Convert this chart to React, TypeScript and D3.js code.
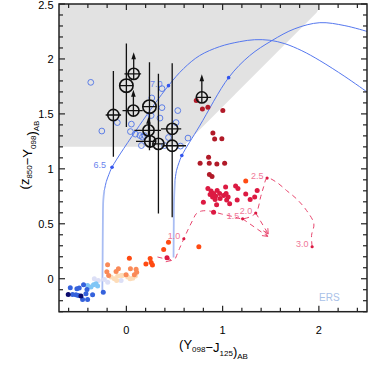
import { useRef, useEffect } from "react";
import * as d3 from "d3";

type Pt = [number, number];

// colour–colour data, (Y098-J125, z850-Y098)
const navyPts: Pt[] = [[-0.604, -0.143], [-0.472, -0.156]];
const bluePts: Pt[] = [
  [-0.583, -0.082], [-0.559, -0.143], [-0.514, -0.091], [-0.49, -0.085], [-0.524, -0.145],
  [-0.445, -0.055], [-0.409, -0.097], [-0.42, -0.136], [-0.455, -0.188], [-0.403, -0.188],
  [-0.351, -0.145], [-0.24, -0.122], [-0.5, -0.152],
];
const lightBluePts: Pt[] = [[-0.368, -0.076], [-0.341, -0.055], [-0.316, -0.045], [-0.403, -0.061], [-0.299, -0.065]];
const lavenderPts: Pt[] = [[-0.333, 0.0], [-0.292, -0.015], [-0.229, -0.006], [-0.194, -0.031], [-0.055, -0.015]];
const peachPts: Pt[] = [
  [-0.159, 0.015], [-0.125, 0.0], [-0.09, 0.024], [-0.055, 0.03], [-0.101, -0.015],
  [0.014, 0.015], [0.039, 0.0], [0.066, 0.005], [0.094, 0.024], [-0.038, 0.03],
];
const orangePts: Pt[] = [
  [-0.195, 0.127], [-0.203, 0.064], [-0.184, 0.03], [-0.107, 0.066], [-0.083, 0.091],
  [-0.003, 0.036], [0.042, 0.091], [0.101, 0.087], [0.083, 0.036], [0.107, 0.06],
];
const orangeRedPts: Pt[] = [
  [0.4375, 0.333], [0.3875, 0.266], [0.031, 0.187], [0.247, 0.185], [0.257, 0.148],
  [0.271, 0.125], [0.203, 0.135], [0.753, 0.292], [1.24, 0.889],
];
const crimsonPts: Pt[] = [
  [0.847, 0.821], [0.88, 0.798], [0.906, 0.775], [0.927, 0.753], [0.896, 0.744],
  [0.943, 0.803], [0.969, 0.775], [0.922, 0.721], [0.974, 0.73], [0.87, 0.766],
  [1.031, 0.835], [1.135, 0.844], [1.159, 0.821], [1.01, 0.757], [1.036, 0.775],
  [1.057, 0.744], [1.042, 0.716], [1.073, 0.682], [1.151, 0.716], [1.24, 0.771],
  [1.286, 0.721], [1.359, 0.803], [1.333, 0.744], [0.8, 0.696], [0.9375, 0.673],
  [0.906, 0.605], [0.422, 0.191],
];
const darkRedPts: Pt[] = [
  [0.726, 1.621], [0.79, 1.544], [0.847, 1.56], [1.002, 1.53], [0.899, 1.327],
  [0.917, 1.271], [0.992, 1.274], [0.854, 1.105], [0.766, 1.051], [0.861, 1.051],
  [0.94, 1.045], [1.021, 1.05], [0.8625, 0.948], [0.89, 0.93],
];
const openBluePts: Pt[] = [
  [-0.37, 1.787], [-0.255, 1.344], [-0.094, 1.421], [0.052, 1.407], [0.042, 1.339],
  [0.094, 1.316], [0.141, 1.303], [0.167, 1.289], [0.1875, 1.303], [0.156, 1.212],
  [0.264, 1.645], [0.257, 1.485], [0.37, 1.73], [0.37, 1.557], [0.349, 1.462],
  [0.534, 1.53], [0.516, 1.421], [0.4375, 1.285], [0.5625, 1.207], [0.64, 1.28],
  [0.396, 1.212],
];

// candidates with error bars
const candidates = [
  { x: -0.135, y: 1.49, xLo: -0.215, xHi: -0.055, yLo: 1.11, yHi: 1.89, big: false, limit: 0 },
  { x: 0.0, y: 1.757, xLo: 0, xHi: 0, yLo: 1.38, yHi: 2.14, big: true, limit: 0 },
  { x: 0.076, y: 1.864, xLo: -0.02, xHi: 0.153, yLo: 1.864, yHi: 1.864, big: false, limit: 2.06 },
  { x: 0.073, y: 1.53, xLo: -0.04, xHi: 0.17, yLo: 1.53, yHi: 1.53, big: false, limit: 1.72 },
  { x: 0.24, y: 1.566, xLo: 0.24, xHi: 0.24, yLo: 1.17, yHi: 1.97, big: true, limit: 0 },
  { x: 0.23, y: 1.35, xLo: 0.083, xHi: 0.36, yLo: 1.35, yHi: 1.35, big: false, limit: 1.475 },
  { x: 0.247, y: 1.25, xLo: 0.1, xHi: 0.28, yLo: 1.19, yHi: 1.3, big: false, limit: 0 },
  { x: 0.333, y: 1.227, xLo: 0.333, xHi: 0.333, yLo: 0.594, yHi: 1.866, big: false, limit: 0 },
  { x: 0.476, y: 1.364, xLo: 0.36, xHi: 0.57, yLo: 1.364, yHi: 1.364, big: false, limit: 0 },
  { x: 0.476, y: 1.21, xLo: 0.375, xHi: 0.62, yLo: 0.56, yHi: 1.96, big: false, limit: 0 },
  { x: 0.784, y: 1.65, xLo: 0.726, xHi: 0.88, yLo: 1.65, yHi: 1.65, big: false, limit: 1.86 },
];

// high-z model tracks
const trackASteep: Pt[] = [[-0.25, -0.12], [-0.247, 0.166], [-0.244, 0.53], [-0.24, 0.712], [-0.229, 0.803]];
const trackA: Pt[] = [
  [-0.229, 0.803], [-0.208, 0.885], [-0.182, 0.948], [-0.149, 1.015], [0.135, 1.394],
  [0.4375, 1.757], [0.594, 1.912], [0.76, 2.03], [0.969, 2.112], [1.177, 2.157],
  [1.333, 2.175], [1.49, 2.17], [1.646, 2.139], [1.823, 2.075], [2.01, 1.985],
  [2.27, 1.84], [2.51, 1.694],
];
const trackBSteep: Pt[] = [[0.49, 0.194], [0.492, 0.439], [0.495, 0.712], [0.505, 0.894]];
const trackB: Pt[] = [
  [0.505, 0.894], [0.521, 0.985], [0.547, 1.057], [0.576, 1.121], [0.76, 1.389],
  [1.0625, 1.83], [1.281, 2.03], [1.51, 2.166], [1.75, 2.275], [2.01, 2.33],
  [2.27, 2.303], [2.51, 2.248],
];
const modelMarks: Pt[] = [[-0.149, 1.015], [0.4375, 1.757], [0.576, 1.121], [1.0625, 1.83]];
const modelLabels = [
  { text: "6.5", at: [-0.149, 1.015] as Pt },
  { text: "7.0", at: [0.4375, 1.757] as Pt },
];

// low-z interloper track
const lowzTrack: Pt[] = [
  [0.51, 0.185], [0.552, 0.275], [0.597, 0.364], [0.646, 0.457], [0.6875, 0.53],
  [0.729, 0.594], [0.781, 0.616], [0.865, 0.616], [0.99, 0.589], [1.125, 0.562],
  [1.208, 0.545], [1.344, 0.598], [1.396, 0.748], [1.427, 0.839], [1.462, 0.916],
  [1.56, 0.878], [1.664, 0.803], [1.768, 0.727], [1.872, 0.621], [1.948, 0.5],
  [1.924, 0.394], [1.93, 0.291],
];
const lowzMarks = [
  { text: "1.0", at: [0.597, 0.364] as Pt },
  { text: "1.5", at: [1.208, 0.545] as Pt },
  { text: "2.0", at: [1.344, 0.598] as Pt },
  { text: "2.5", at: [1.462, 0.916] as Pt },
  { text: "3.0", at: [1.93, 0.291] as Pt },
];
const lowzArrows: [Pt, Pt][] = [
  [[1.208, 0.545], [1.469, 0.385]],
  [[1.344, 0.598], [1.474, 0.407]],
  [[0.323, 0.198], [0.469, 0.166]],
];

const selectionBox: Pt[] = [[-0.7, 2.5], [-0.7, 1.2], [0.585, 1.2], [1.975, 2.42], [1.995, 2.45], [2.0, 2.5]];

const xTickLabels = [0, 1, 2];
const yTickLabels = [0, 0.5, 1, 1.5, 2, 2.5];

const App = () => {
  const ref = useRef<SVGSVGElement>(null);

  useEffect(() => {
    const svg = d3.select(ref.current);
    svg.selectAll("*").remove();
    const font = "'Liberation Sans', Arial, sans-serif";

    const x = d3.scaleLinear().domain([-0.7, 2.5]).range([59, 367]);
    const y = d3.scaleLinear().domain([-0.3, 2.5]).range([311.7, 4]);
    const line = d3.line<Pt>().x(d => x(d[0])).y(d => y(d[1]));
    const smooth = d3.line<Pt>().x(d => x(d[0])).y(d => y(d[1])).curve(d3.curveCatmullRom);

    const defs = svg.append("defs");
    defs.append("clipPath").attr("id", "plot")
      .append("rect").attr("x", 59).attr("y", 4).attr("width", 308).attr("height", 307.7);
    defs.append("marker").attr("id", "chev").attr("viewBox", "0 0 8 8").attr("refX", 7).attr("refY", 4)
      .attr("markerWidth", 7).attr("markerHeight", 7).attr("markerUnits", "userSpaceOnUse").attr("orient", "auto")
      .append("path").attr("d", "M1,1 L7,4 L1,7").attr("fill", "none").attr("stroke", "#e8466e").attr("stroke-width", 1);

    const g = svg.append("g").attr("clip-path", "url(#plot)");

    g.append("path").attr("d", line(selectionBox) + "Z").attr("fill", "#e2e2e2");

    // model tracks
    g.append("path").attr("d", smooth(trackASteep)).attr("fill", "none").attr("stroke", "#a9bdf3").attr("stroke-width", 1.8);
    g.append("path").attr("d", smooth(trackA)).attr("fill", "none").attr("stroke", "#5577ee").attr("stroke-width", 1);
    g.append("path").attr("d", smooth(trackBSteep)).attr("fill", "none").attr("stroke", "#a9bdf3").attr("stroke-width", 1.8);
    g.append("path").attr("d", smooth(trackB)).attr("fill", "none").attr("stroke", "#5577ee").attr("stroke-width", 1);
    g.selectAll(".mm").data(modelMarks).enter().append("circle")
      .attr("cx", d => x(d[0])).attr("cy", d => y(d[1])).attr("r", 1.8).attr("fill", "#3355ee");
    g.selectAll(".ml").data(modelLabels).enter().append("text")
      .attr("x", d => x(d.at[0]) - 6).attr("y", d => y(d.at[1]) + 1)
      .attr("text-anchor", "end").attr("font-family", font).attr("font-size", 9).attr("fill", "#6a84ee")
      .text(d => d.text);

    // low-z track
    g.append("path").attr("d", smooth(lowzTrack)).attr("fill", "none").attr("stroke", "#e8466e")
      .attr("stroke-width", 1).attr("stroke-dasharray", "5,4");
    lowzArrows.forEach(a => {
      g.append("path").attr("d", line(a)).attr("fill", "none").attr("stroke", "#e8466e")
        .attr("stroke-width", 1).attr("stroke-dasharray", "5,4").attr("marker-end", "url(#chev)");
    });

    // coloured samples
    const dots = (pts: Pt[], fill: string) =>
      g.append("g").selectAll("circle").data(pts).enter().append("circle")
        .attr("cx", d => x(d[0])).attr("cy", d => y(d[1])).attr("r", 2.5).attr("fill", fill);
    dots(lavenderPts, "#dcdff6");
    dots(peachPts, "#fddcb8");
    dots(lightBluePts, "#80c6f6");
    dots(bluePts, "#3562dc");
    dots(navyPts, "#0b0b6e");
    dots(orangePts, "#fa8a58");
    dots(orangeRedPts, "#ff4a12");
    dots(crimsonPts, "#dc1a42");
    dots(darkRedPts, "#b11a28");

    g.selectAll(".lm").data(lowzMarks).enter().append("circle")
      .attr("cx", d => x(d.at[0])).attr("cy", d => y(d.at[1])).attr("r", 1.6).attr("fill", "#dc1a42");
    g.selectAll(".lt").data(lowzMarks).enter().append("text")
      .attr("x", d => x(d.at[0]) - 3.5).attr("y", d => y(d.at[1]) + 0.5)
      .attr("text-anchor", "end").attr("font-family", font).attr("font-size", 9).attr("fill", "#f07898")
      .text(d => d.text);

    g.append("g").selectAll("circle").data(openBluePts).enter().append("circle")
      .attr("cx", d => x(d[0])).attr("cy", d => y(d[1])).attr("r", 2.9)
      .attr("fill", "none").attr("stroke", "#4f74e6").attr("stroke-width", 0.9);

    // candidates
    candidates.forEach(c => {
      const cx = x(c.x), cy = y(c.y);
      const r = c.big ? 6.7 : 5.6;
      const k = g.append("g").attr("stroke", "#111").attr("stroke-width", 1.3).attr("fill", "none");
      k.append("line").attr("x1", Math.min(x(c.xLo), cx - r)).attr("x2", Math.max(x(c.xHi), cx + r))
        .attr("y1", cy).attr("y2", cy);
      k.append("line").attr("x1", cx).attr("x2", cx)
        .attr("y1", Math.max(y(c.yLo), cy + r)).attr("y2", Math.min(y(c.yHi), cy - r));
      k.append("circle").attr("cx", cx).attr("cy", cy).attr("r", r).attr("stroke-width", 1.6);
      if (c.limit) {
        const tip = y(c.limit);
        k.append("line").attr("x1", cx).attr("x2", cx).attr("y1", cy - r).attr("y2", tip + 5);
        k.append("path").attr("d", `M${cx},${tip} L${cx - 2.3},${tip + 7} L${cx + 2.3},${tip + 7} Z`)
          .attr("fill", "#111").attr("stroke", "none");
      }
    });

    g.append("text").attr("x", 319).attr("y", 301).attr("font-family", font).attr("font-size", 10)
      .attr("fill", "#a9c1e8").text("ERS");

    // frame + ticks
    const ax = svg.append("g").attr("stroke", "#222").attr("stroke-width", 1.2);
    x.ticks(16).forEach(t => {
      const len = Math.abs(t - Math.round(t)) < 1e-6 ? 6 : 4;
      ax.append("line").attr("x1", x(t)).attr("x2", x(t)).attr("y1", 311.7).attr("y2", 311.7 - len);
      ax.append("line").attr("x1", x(t)).attr("x2", x(t)).attr("y1", 4).attr("y2", 4 + len);
    });
    y.ticks(28).forEach(t => {
      const len = Math.abs(t * 2 - Math.round(t * 2)) < 1e-6 ? 6 : 4;
      ax.append("line").attr("x1", 59).attr("x2", 59 + len).attr("y1", y(t)).attr("y2", y(t));
      ax.append("line").attr("x1", 367).attr("x2", 367 - len).attr("y1", y(t)).attr("y2", y(t));
    });
    ax.append("rect").attr("x", 59).attr("y", 4).attr("width", 308).attr("height", 307.7)
      .attr("fill", "none").attr("stroke-width", 1.5);

    svg.selectAll(".xl").data(xTickLabels).enter().append("text")
      .attr("x", d => x(d)).attr("y", 333.5).attr("text-anchor", "middle")
      .attr("font-family", font).attr("font-size", 11).text(d => String(d));
    svg.selectAll(".yl").data(yTickLabels).enter().append("text")
      .attr("x", 53.5).attr("y", d => Math.max(y(d) + 4, 9)).attr("text-anchor", "end")
      .attr("font-family", font).attr("font-size", 11).text(d => String(d));

    const axisTitle = (sel: d3.Selection<SVGTextElement, unknown, null, undefined>, parts: [string, string][]) => {
      parts.forEach(([main, sub]) => {
        sel.append("tspan").text(main);
        if (sub) {
          sel.append("tspan").attr("font-size", 8).attr("dy", 3.5).text(sub);
          sel.append("tspan").attr("dy", -3.5).text("");
        }
      });
    };
    const xt = svg.append("text").attr("x", 213.5).attr("y", 348.5).attr("text-anchor", "middle")
      .attr("font-family", font).attr("font-size", 13);
    axisTitle(xt as any, [["(Y", "098"], ["\u2212J", "125"], [")", "AB"]]);
    const yt = svg.append("text").attr("transform", "translate(28.5,155) rotate(-90)").attr("text-anchor", "middle")
      .attr("font-family", font).attr("font-size", 13);
    axisTitle(yt as any, [["(z", "850"], ["\u2212Y", "098"], [")", "AB"]]);
  }, []);

  return <svg ref={ref} width={368} height={371} style={{ position: "absolute", left: 0, top: 0 }} />;
};

export default App;
